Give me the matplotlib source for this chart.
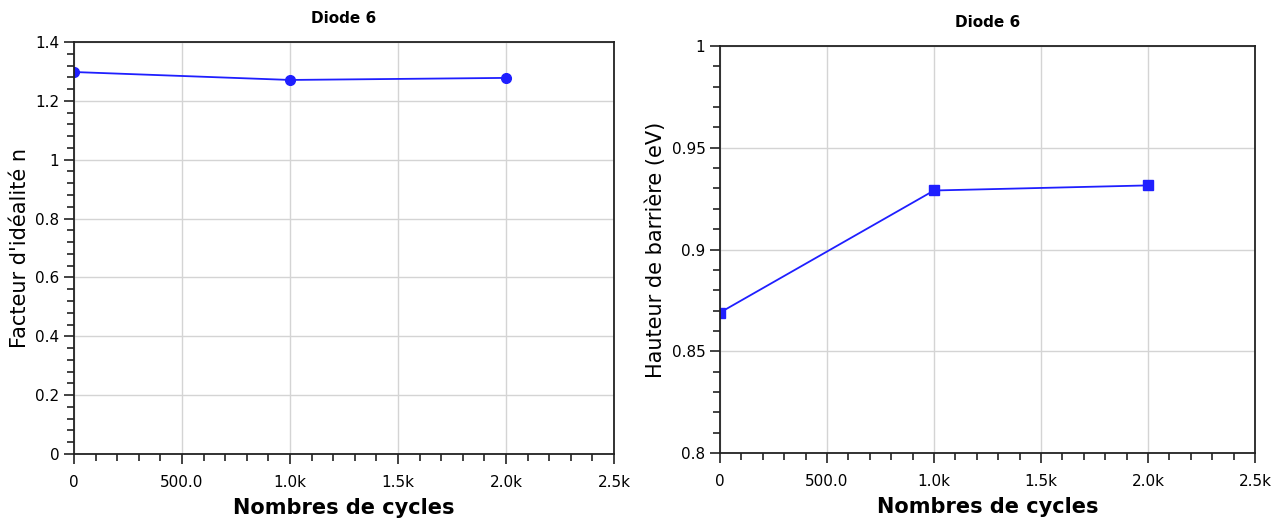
import matplotlib
matplotlib.use('Agg')
import matplotlib.pyplot as plt
from matplotlib.ticker import MultipleLocator, FixedLocator, FixedFormatter

# data
cycles = [0, 1000, 2000]
facteur_n = [1.298, 1.271, 1.278]
hauteur_eV = [0.869, 0.929, 0.9315]

x_ticks = [0, 500, 1000, 1500, 2000, 2500]
x_labels = ['0', '500.0', '1.0k', '1.5k', '2.0k', '2.5k']
y1_ticks = [0, 0.2, 0.4, 0.6, 0.8, 1.0, 1.2, 1.4]
y1_labels = ['0', '0.2', '0.4', '0.6', '0.8', '1', '1.2', '1.4']
y2_ticks = [0.8, 0.85, 0.9, 0.95, 1.0]
y2_labels = ['0.8', '0.85', '0.9', '0.95', '1']

plt.rcParams['font.family'] = ['DejaVu Sans']

fig = plt.figure(figsize=(12.82, 5.21), dpi=100)
ax1 = fig.add_axes([0.0577, 0.1286, 0.4213, 0.7908])
ax2 = fig.add_axes([0.5616, 0.1305, 0.4174, 0.7812])

blue = '#1f1fff'

def style(ax, yticks, ylabels, yminor, ylabel):
    ax.set_xlim(0, 2500)
    ax.xaxis.set_major_locator(FixedLocator(x_ticks))
    ax.xaxis.set_major_formatter(FixedFormatter(x_labels))
    ax.xaxis.set_minor_locator(MultipleLocator(100))
    ax.yaxis.set_major_locator(FixedLocator(yticks))
    ax.yaxis.set_major_formatter(FixedFormatter(ylabels))
    ax.yaxis.set_minor_locator(MultipleLocator(yminor))
    ax.grid(True, which='major', color='#d4d4d4', linewidth=1)
    ax.set_axisbelow(True)
    ax.tick_params(which='major', direction='out', length=7, width=1.2, labelsize=11, color='#222222')
    ax.tick_params(which='minor', direction='out', length=5, width=1.2, color='#222222')
    ax.tick_params(axis='x', pad=8)
    for s in ax.spines.values():
        s.set_color('#222222')
        s.set_linewidth(1.3)
    ax.set_xlabel('Nombres de cycles', fontsize=15, fontweight='bold', labelpad=6)
    ax.set_ylabel(ylabel, fontsize=15, labelpad=4)
    ax.set_title('Diode 6', fontsize=11, fontweight='bold', pad=14)

ax1.plot(cycles, facteur_n, color=blue, marker='o', markersize=7, linewidth=1.3)
ax1.set_ylim(0, 1.4)
style(ax1, y1_ticks, y1_labels, 0.04, "Facteur d'idéalité n")

ax2.plot(cycles, hauteur_eV, color=blue, marker='s', markersize=7, linewidth=1.3)
ax2.set_ylim(0.8, 1.0)
style(ax2, y2_ticks, y2_labels, 0.01, 'Hauteur de barrière (eV)')

fig.savefig('out.png', dpi=100)
